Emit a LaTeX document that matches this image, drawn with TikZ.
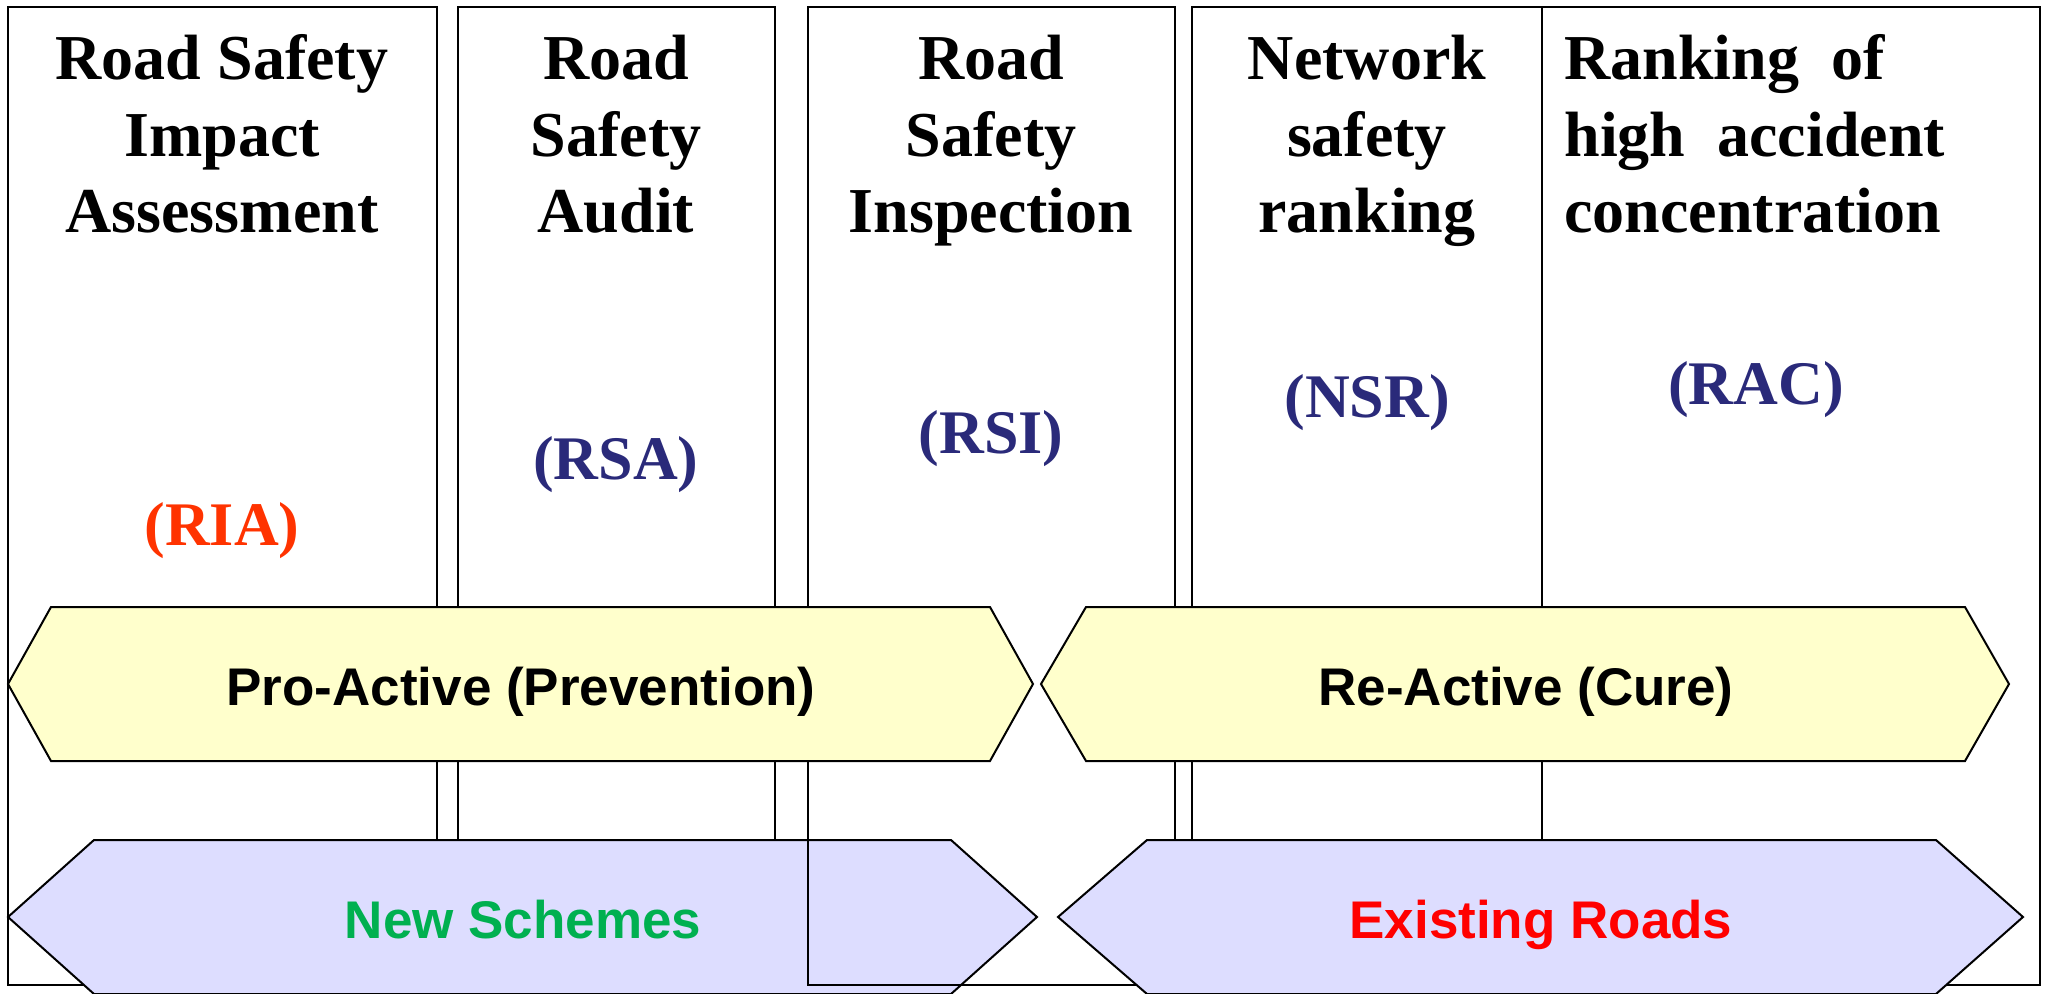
\documentclass[tikz,border=0pt]{standalone}
\usepackage{fontspec}
\setmainfont{Liberation Serif}
\setsansfont{Liberation Sans}
\definecolor{hexyellow}{RGB}{255,255,204}
\definecolor{hexpurple}{RGB}{221,221,255}
\definecolor{navyab}{RGB}{42,42,122}
\definecolor{riared}{RGB}{255,51,0}
\definecolor{schemegreen}{RGB}{0,176,80}
\definecolor{roadred}{RGB}{255,0,0}
\begin{document}
\begin{tikzpicture}[x=0.5pt,y=-0.5pt,
  colbox/.style={draw=black, line width=1pt, inner sep=0pt, outer sep=0pt, anchor=north west, minimum height=489pt},
  titletext/.style={inner sep=0pt, anchor=base, align=center, font=\fontsize{32}{38.35}\selectfont\bfseries},
  abbrev/.style={inner sep=0pt, anchor=base, text=navyab, font=\fontsize{31}{36}\selectfont\bfseries},
  hexline/.style={draw=black, line width=1pt, line join=miter},
  hexlabel/.style={inner sep=0pt, anchor=base, font=\sffamily\bfseries\fontsize{26.5}{30}\selectfont}]
\useasboundingbox (0,0) rectangle (2045,994);
\fill[white] (0,0) rectangle (2045,994);
% columns 1 and 2 (under the first lower band)
\node[colbox, minimum width=214.5pt] (b1) at (8,7) {};
\node[colbox, minimum width=158.5pt] (b2) at (458,7) {};
% lower band, left
\path[hexline, fill=hexpurple] (8,917) -- (94,840) -- (951,840) -- (1037,917) -- (951,994) -- (94,994) -- cycle;
% columns 3 to 5
\node[colbox, minimum width=183.5pt] (b3) at (808,7) {};
\node[colbox, minimum width=175pt] (b4) at (1192,7) {};
\node[colbox, minimum width=249pt] (b5) at (1542,7) {};
% lower band, right
\path[hexline, fill=hexpurple] (1058,917) -- (1147,840) -- (1936,840) -- (2023,917) -- (1936,994) -- (1147,994) -- cycle;
% upper bands
\path[hexline, fill=hexyellow] (8,684) -- (51,607) -- (990,607) -- (1033,684) -- (990,761) -- (51,761) -- cycle;
\path[hexline, fill=hexyellow] (1041,684) -- (1086,607) -- (1965,607) -- (2009,684) -- (1965,761) -- (1086,761) -- cycle;
% titles (anchored at the baseline of their last line)
\node[titletext] (t1) at (222,233) {Road Safety\\Impact\\Assessment};
\node[titletext] (t2) at (616,233) {Road\\Safety\\Audit};
\node[titletext] (t3) at (991,233) {Road\\Safety\\Inspection};
\node[titletext] (t4) at (1367,233) {Network\\safety\\ranking};
\node[titletext, anchor=base west, align=left] (t5) at (1564,233) {Ranking\ \ of\\high\ \ accident\\concentration};
% abbreviations
\node[abbrev, text=riared] (a1) at (222,545) {(RIA)};
\node[abbrev] (a2) at (616,480) {(RSA)};
\node[abbrev] (a3) at (991,453) {(RSI)};
\node[abbrev] (a4) at (1367,418) {(NSR)};
\node[abbrev] (a5) at (1756,405) {(RAC)};
% band labels
\node[hexlabel] (l1) at (521,705) {Pro-Active (Prevention)};
\node[hexlabel] (l2) at (1526,705) {Re-Active (Cure)};
\node[hexlabel, text=schemegreen] (l3) at (523,938) {New Schemes};
\node[hexlabel, text=roadred] (l4) at (1541,938) {Existing Roads};
\end{tikzpicture}
\end{document}
